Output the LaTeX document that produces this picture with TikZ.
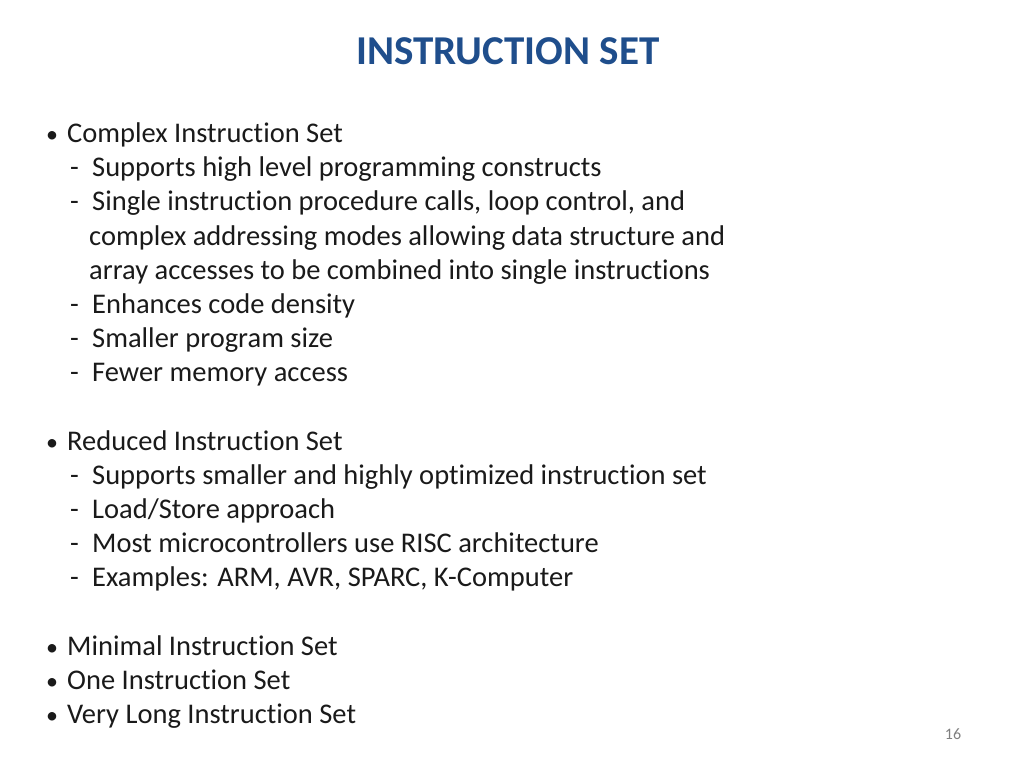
\documentclass[tikz,border=0pt]{standalone}
\usepackage{fontspec}
\setmainfont{Carlito}[Ligatures={NoCommon}]
\definecolor{titleblue}{HTML}{1F4E8C}
\definecolor{txt}{HTML}{1A1A1A}
\begin{document}
\begin{tikzpicture}[x=1pt,y=-1pt,
  body/.style={anchor=base west,inner sep=0pt,font=\fontsize{28.5}{32}\selectfont,text=txt},
  bmark/.style={anchor=base west,inner sep=0pt,font=\fontsize{24}{28}\selectfont,text=txt}]
\useasboundingbox[fill=white] (0,0) rectangle (1024,768);
\node[anchor=base,inner sep=0pt,font=\fontsize{41}{46}\selectfont\bfseries,text=titleblue] (title) at (508,64) {INSTRUCTION SET};
% CISC
\node[bmark] (b1) at (46,142) {•};
\node[body] (t1) at (67,142) {Complex Instruction Set};
\node[body] (d1) at (70,176) {-};
\node[body] (t2) at (92,176) {Supports high level programming constructs};
\node[body] (d2) at (70,210) {-};
\node[body] (t3) at (92,210) {Single instruction procedure calls, loop control, and};
\node[body] (t4) at (89,245) {complex addressing modes allowing data structure and};
\node[body] (t5) at (89,279) {array accesses to be combined into single instructions};
\node[body] (d3) at (70,313) {-};
\node[body] (t6) at (92,313) {Enhances code density};
\node[body] (d4) at (70,347) {-};
\node[body] (t7) at (92,347) {Smaller program size};
\node[body] (d5) at (70,381) {-};
\node[body] (t8) at (92,381) {Fewer memory access};
% RISC
\node[bmark] (b2) at (46,450) {•};
\node[body] (t9) at (67,450) {Reduced Instruction Set};
\node[body] (d6) at (70,484) {-};
\node[body] (t10) at (92,484) {Supports smaller and highly optimized instruction set};
\node[body] (d7) at (70,518) {-};
\node[body] (t11) at (92,518) {Load/Store approach};
\node[body] (d8) at (70,552) {-};
\node[body] (t12) at (92,552) {Most microcontrollers use RISC architecture};
\node[body] (d9) at (70,586) {-};
\node[body] (t13) at (92,586) {Examples: ARM, AVR, SPARC, K-Computer};
% others
\node[bmark] (b3) at (46,655) {•};
\node[body] (t14) at (67,655) {Minimal Instruction Set};
\node[bmark] (b4) at (46,689) {•};
\node[body] (t15) at (67,689) {One Instruction Set};
\node[bmark] (b5) at (46,723) {•};
\node[body] (t16) at (67,723) {Very Long Instruction Set};
\node[anchor=base,inner sep=0pt,font=\fontsize{16}{18}\selectfont,text=gray] (pg) at (953,739) {16};
\end{tikzpicture}
\end{document}
